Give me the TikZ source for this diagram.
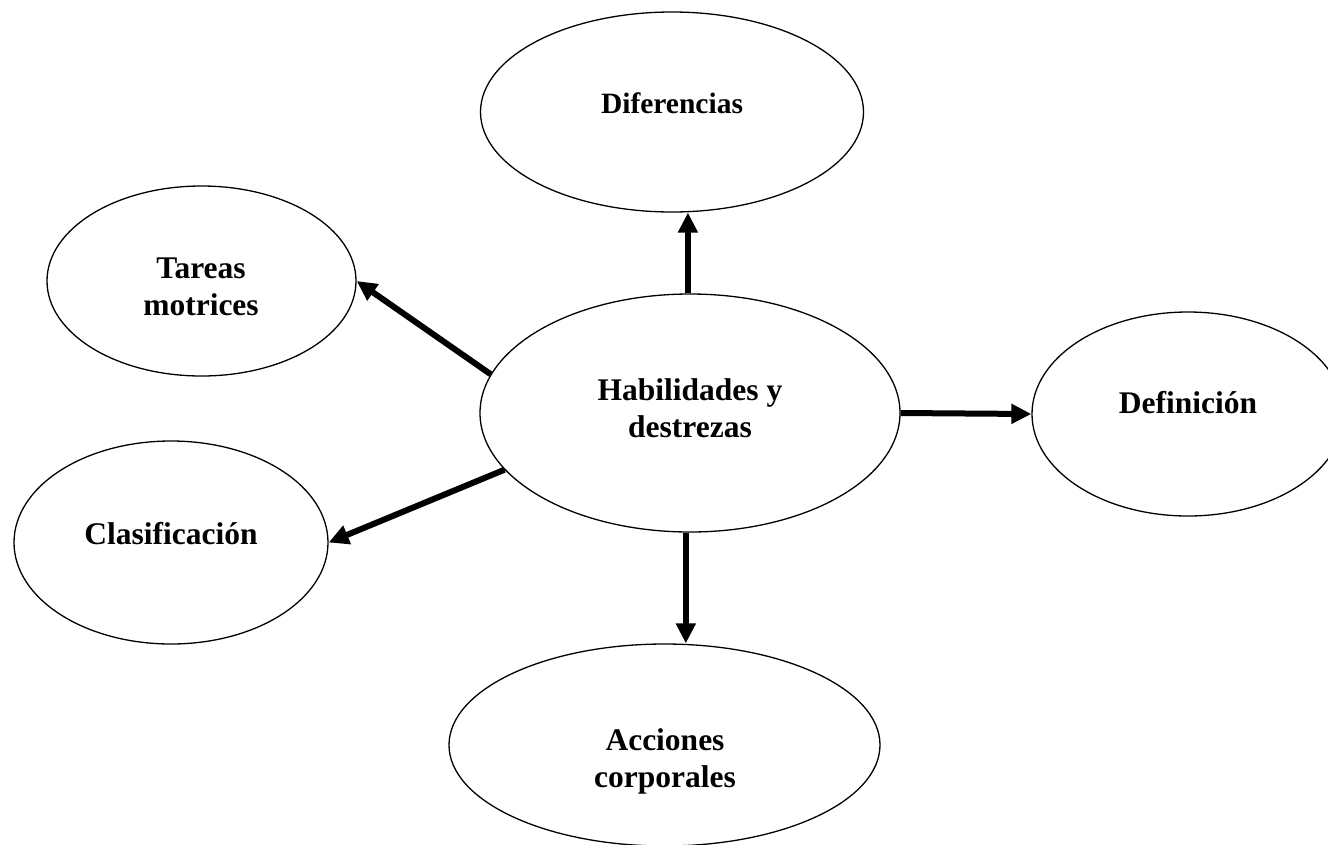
\documentclass[tikz,border=0pt]{standalone}
\usepackage{fontspec}
\setmainfont{Liberation Serif}
\usetikzlibrary{shapes.geometric,arrows.meta}

\tikzset{
	bubble/.style = {draw, ellipse, line width = 1.3pt, inner sep = 0pt},
	lbl/.style = {font = \bfseries\fontsize{31.5}{37}\selectfont, align = center, anchor = base, inner sep = 0pt},
	arr/.style = {-{Triangle[length=20pt,width=19pt]}, line width = 6pt},
}

\begin{document}
\begin{tikzpicture}[x=1pt, y=-1pt]
	\useasboundingbox (0,0) rectangle (1328,844);

	\node (dif) at (672,112)   [bubble, minimum width=383pt, minimum height=200pt] {};
	\node (tar) at (201.5,281) [bubble, minimum width=309pt, minimum height=190pt] {};
	\node (hab) at (690,413)   [bubble, minimum width=420pt, minimum height=238pt] {};
	\node (def) at (1188,414)  [bubble, minimum width=312pt, minimum height=204pt] {};
	\node (cla) at (171,542.5) [bubble, minimum width=314pt, minimum height=203pt] {};
	\node (acc) at (664.5,745) [bubble, minimum width=431pt, minimum height=202pt] {};

	\node (dif-txt) at (672,113)  [lbl, font=\bfseries\fontsize{29.5}{37}\selectfont] {Diferencias};
	\node (tar-txt) at (201,315)  [lbl] {Tareas\\motrices};
	\node (hab-txt) at (690,437)  [lbl] {Habilidades y\\destrezas};
	\node (def-txt) at (1188,413) [lbl] {Definición};
	\node (cla-txt) at (171,544)  [lbl] {Clasificación};
	\node (acc-txt) at (665,787)  [lbl] {Acciones\\corporales};

	\draw[arr] (hab.91) -- (hab.91 |- dif.south);
	\draw[arr] (hab.169) -- (tar.east);
	\draw[arr] (hab.east) -- (def.west);
	\draw[arr] (hab.197) -- (cla.east);
	\draw[arr] (hab.268) -- (hab.268 |- acc.north);
\end{tikzpicture}
\end{document}
